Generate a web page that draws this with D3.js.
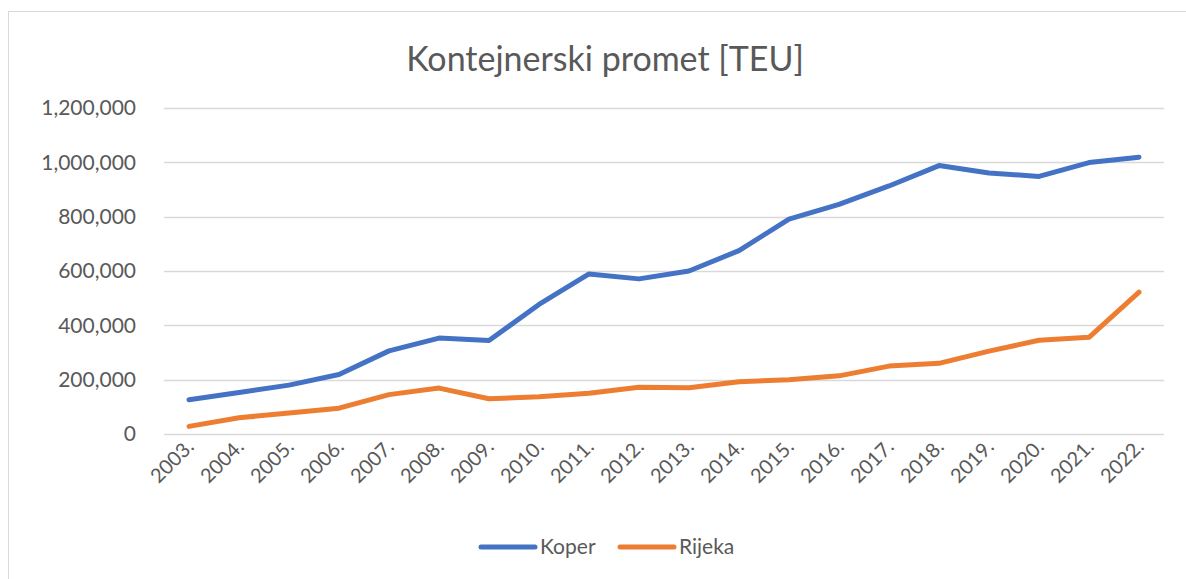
<!DOCTYPE html>
<html>
<head>
<meta charset="utf-8">
<script src="https://cdn.jsdelivr.net/npm/d3@7"></script>
<style>
  body { margin: 0; background: #fff; }
  svg text { font-family: Lato, "Open Sans", sans-serif; fill: #595959; }
</style>
</head>
<body>
<div id="chart"></div>
<script>
const years = ['2003.', '2004.', '2005.', '2006.', '2007.', '2008.', '2009.', '2010.', '2011.', '2012.',
    '2013.', '2014.', '2015.', '2016.', '2017.', '2018.', '2019.', '2020.', '2021.', '2022.'];
const koper = [126000, 153000, 180000, 219000, 306000, 353000, 344000, 477000, 589000, 571000,
    600000, 675000, 791000, 845000, 913000, 988000, 961000, 948000, 999000, 1019000];
const rijeka = [28000, 60000, 77000, 95000, 145000, 169000, 130000, 137000, 150000, 172000,
    170000, 192000, 200000, 214000, 250000, 260000, 305000, 345000, 356000, 522000];
const yTicks = [0, 200000, 400000, 600000, 800000, 1000000, 1200000];
const series = [
    { name: 'Koper', values: koper, color: '#4472C4' },
    { name: 'Rijeka', values: rijeka, color: '#ED7D31' },
];

const width = 1186, height = 579;
const margin = { top: 108, left: 164, right: 22, bottom: 145 };

const svg = d3.select('#chart').append('svg')
    .attr('width', width)
    .attr('height', height);

// chart frame
svg.append('rect')
    .attr('x', 8.5).attr('y', 11.5)
    .attr('width', width).attr('height', height)
    .attr('fill', 'none')
    .attr('stroke', '#d9d9d9');

svg.append('text')
    .attr('x', 605).attr('y', 71)
    .attr('text-anchor', 'middle')
    .attr('font-size', 34)
    .text('Kontejnerski promet [TEU]');

const x = d3.scalePoint()
    .domain(years)
    .range([margin.left, width - margin.right])
    .padding(0.5);

const y = d3.scaleLinear()
    .domain([0, 1200000])
    .range([height - margin.bottom, margin.top]);

const fmt = d3.format(',');

// gridlines
svg.append('g')
    .selectAll('line')
    .data(yTicks)
    .enter()
    .append('line')
    .attr('x1', margin.left)
    .attr('x2', width - margin.right)
    .attr('y1', (d) => Math.round(y(d)) + 0.5)
    .attr('y2', (d) => Math.round(y(d)) + 0.5)
    .attr('stroke', '#d9d9d9')
    .attr('stroke-width', 1.3);

// y labels
svg.append('g')
    .selectAll('text')
    .data(yTicks)
    .enter()
    .append('text')
    .attr('x', 136)
    .attr('y', (d) => y(d))
    .attr('dy', '0.35em')
    .attr('text-anchor', 'end')
    .attr('font-size', 21)
    .text((d) => fmt(d));

// x labels
svg.append('g')
    .selectAll('text')
    .data(years)
    .enter()
    .append('text')
    .attr('transform', (d) => `translate(${x(d) + 6}, 448) rotate(-45)`)
    .attr('text-anchor', 'end')
    .attr('font-size', 20)
    .text((d) => d);

const line = d3.line()
    .x((d, i) => x(years[i]))
    .y((d) => y(d));

svg.append('g')
    .selectAll('path')
    .data(series)
    .enter()
    .append('path')
    .attr('d', (d) => line(d.values))
    .attr('fill', 'none')
    .attr('stroke', (d) => d.color)
    .attr('stroke-width', 5)
    .attr('stroke-linecap', 'round')
    .attr('stroke-linejoin', 'round');

// legend
const legendX = [481, 620];
const legend = svg.append('g')
    .selectAll('g')
    .data(series)
    .enter()
    .append('g')
    .attr('transform', (d, i) => `translate(${legendX[i]}, 547)`);
legend.append('line')
    .attr('x1', 0).attr('x2', 54)
    .attr('stroke', (d) => d.color)
    .attr('stroke-width', 5)
    .attr('stroke-linecap', 'round');
legend.append('text')
    .attr('x', 59)
    .attr('dy', '0.35em')
    .attr('font-size', 21)
    .text((d) => d.name);
</script>
</body>
</html>
